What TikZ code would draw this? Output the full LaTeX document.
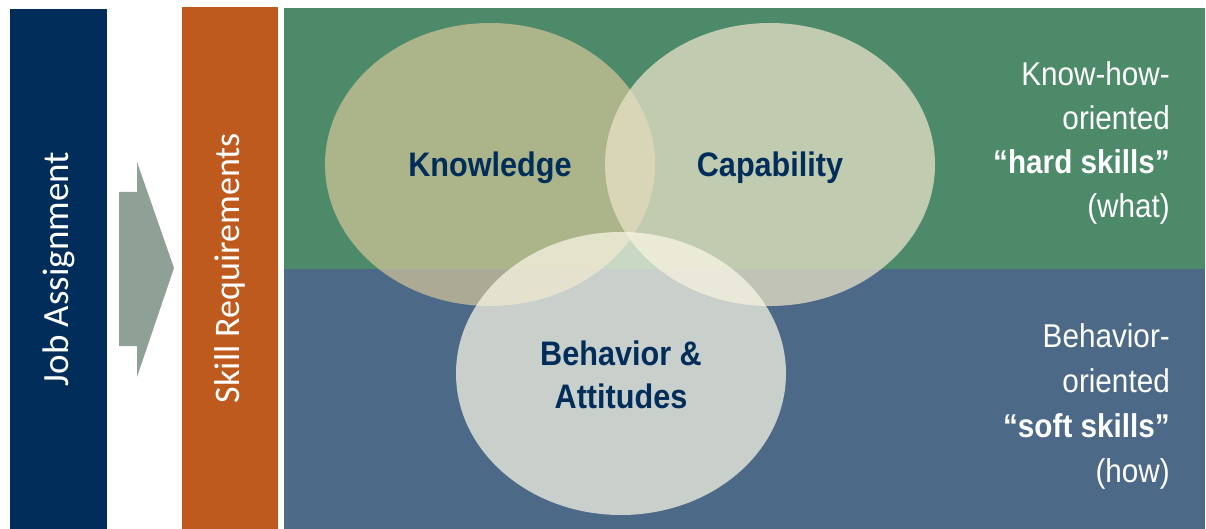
\documentclass[tikz,border=0pt]{standalone}
\usepackage{fontspec}
\setmainfont{Liberation Sans}[FakeStretch=0.9]
\newfontfamily\barfont{Carlito}
\usepackage{tikz}
\usetikzlibrary{shapes.geometric}
\definecolor{navy}{RGB}{0, 45, 90}
\definecolor{rust}{RGB}{190, 90, 30}
\definecolor{sage}{RGB}{76, 138, 105}
\definecolor{slate}{RGB}{76, 106, 136}
\definecolor{lgray}{RGB}{143, 160, 151}
\definecolor{khaki}{RGB}{223, 203, 155}
\definecolor{cream}{RGB}{233, 226, 200}
\definecolor{ivory}{RGB}{250, 247, 230}

\begin{document}
\begin{tikzpicture}[x = 1pt, y = -1pt]
			\useasboundingbox (0,0) rectangle (1206,529);
			\node (job) at (58.5,269) [rotate = 90, fill = navy, inner sep = 0, minimum width = 520pt, minimum height = 97pt, text = white, font = \barfont\fontsize{37}{40}\selectfont] {Job Assignment};
			\node (skill) at (230,268) [rotate = 90, fill = rust, inner sep = 0, minimum width = 522pt, minimum height = 96pt, text = white, font = \barfont\fontsize{36}{40}\selectfont] {Skill Requirements};
			\fill [lgray] (119,192) -- (137,192) -- (137,162) -- (174,268) -- (137,377) -- (137,346) -- (119,346) -- cycle;
			\fill [sage] (284,8) rectangle (1205,269);
			\fill [slate] (284,269) rectangle (1205,529);
			\node (know) at (490,164.5) [ellipse, fill = khaki, fill opacity = 0.66, minimum width = 330pt, minimum height = 283pt] {};
			\node (capa) at (770,164.5) [ellipse, fill = cream, fill opacity = 0.75, minimum width = 330pt, minimum height = 283pt] {};
			\node (behav) at (621,373.5) [ellipse, fill = ivory, fill opacity = 0.72, minimum width = 330pt, minimum height = 283pt] {};
			\node (knowtext) at (490,177) [anchor = base, text = navy, font = \bfseries\fontsize{34}{43}\selectfont] {Knowledge};
			\node (capatext) at (770,177) [anchor = base, text = navy, font = \bfseries\fontsize{34}{43}\selectfont] {Capability};
			\node (behavtext) at (621,374.5) [inner sep = 0, align = center, text = navy, font = \bfseries\fontsize{34}{43}\selectfont] {Behavior \&\\Attitudes};
			\node (hard) at (1170,143) [anchor = east, inner sep = 0, align = right, text = white, font = \fontsize{33}{44}\selectfont] {Know-how-\\oriented\\\textbf{“hard skills”}\\(what)};
			\node (soft) at (1170,406.5) [anchor = east, inner sep = 0, align = right, text = white, font = \fontsize{33}{44.7}\selectfont] {Behavior-\\oriented\\\textbf{“soft skills”}\\(how)};
			\end{tikzpicture}
\end{document}
